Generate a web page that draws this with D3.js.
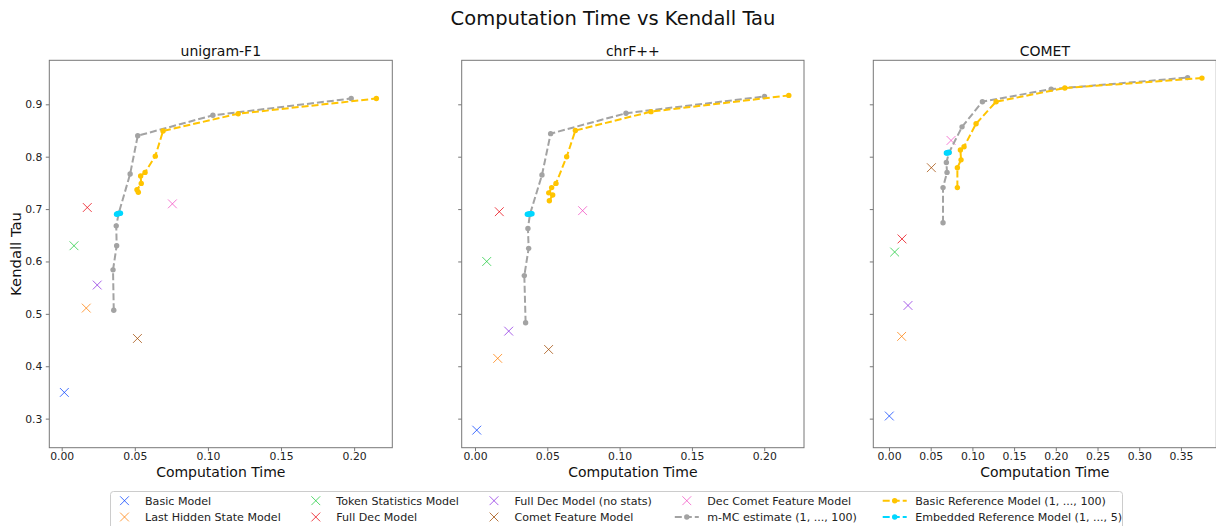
<!DOCTYPE html>
<html><head><meta charset="utf-8">
<script src="https://cdn.jsdelivr.net/npm/d3@7"></script>
<style>body{margin:0;background:#fff;} svg{display:block;font-family:"DejaVu Sans",sans-serif;}</style>
</head><body><svg id="c" width="1216" height="526"></svg>
<script>
// ---------- DATA ----------
const panelTitles = ["unigram-F1", "chrF++", "COMET"];
const crossModels = ["Basic Model", "Last Hidden State Model", "Token Statistics Model", "Full Dec Model",
  "Full Dec Model (no stats)", "Comet Feature Model", "Dec Comet Feature Model"];
const lineSeries = ["m-MC estimate (1, ..., 100)", "Basic Reference Model (1, ..., 100)", "Embedded Reference Model (1, ..., 5)"];

// single-model crosses (time, tau), order as crossModels
const crossTimeUnigram = [0.0018, 0.0168, 0.0084, 0.0175, 0.0243, 0.0518, 0.0757];
const crossTauUnigram  = [0.350, 0.511, 0.630, 0.703, 0.555, 0.453, 0.710];
const crossTimeChrf = [0.0012, 0.0157, 0.0081, 0.0168, 0.0233, 0.0509, 0.0744];
const crossTauChrf  = [0.278, 0.415, 0.600, 0.695, 0.467, 0.432, 0.697];
const crossTimeComet = [0.0004, 0.0152, 0.0068, 0.0156, 0.0228, 0.0508, 0.0744];
const crossTauComet  = [0.305, 0.457, 0.618, 0.643, 0.516, 0.779, 0.831];

// m-MC estimate
const mmcTimeUnigram = [0.0356, 0.0351, 0.0376, 0.0373, 0.0390, 0.0468, 0.0520, 0.1034, 0.1980];
const mmcTauUnigram  = [0.507, 0.584, 0.630, 0.668, 0.692, 0.767, 0.840, 0.879, 0.911];
const mmcTimeChrf = [0.0350, 0.0341, 0.0371, 0.0366, 0.0380, 0.0463, 0.0523, 0.1044, 0.2002];
const mmcTauChrf  = [0.483, 0.573, 0.625, 0.663, 0.690, 0.765, 0.844, 0.883, 0.915];
const mmcTimeComet = [0.0648, 0.0648, 0.0696, 0.0688, 0.0720, 0.0876, 0.1120, 0.1944, 0.3580];
const mmcTauComet  = [0.674, 0.741, 0.770, 0.789, 0.808, 0.857, 0.905, 0.929, 0.951];

// Basic Reference Model
const basicRefTimeUnigram = [0.0524, 0.0515, 0.0544, 0.0540, 0.0570, 0.0640, 0.0693, 0.1207, 0.2152];
const basicRefTauUnigram  = [0.732, 0.737, 0.749, 0.763, 0.770, 0.801, 0.849, 0.882, 0.911];
const basicRefTimeChrf = [0.0514, 0.0537, 0.0510, 0.0530, 0.0560, 0.0634, 0.0694, 0.1217, 0.2170];
const basicRefTauChrf  = [0.716, 0.727, 0.731, 0.741, 0.749, 0.800, 0.850, 0.886, 0.917];
const basicRefTimeComet = [0.0820, 0.0820, 0.0864, 0.0856, 0.0900, 0.1044, 0.1284, 0.2108, 0.3752];
const basicRefTauComet  = [0.741, 0.779, 0.794, 0.813, 0.819, 0.863, 0.905, 0.931, 0.950];

// Embedded Reference Model
const embRefTimeUnigram = [0.0375, 0.0382, 0.0388, 0.0395, 0.0402];
const embRefTauUnigram  = [0.690, 0.691, 0.691, 0.692, 0.692];
const embRefTimeChrf = [0.0362, 0.0370, 0.0378, 0.0386, 0.0394];
const embRefTauChrf  = [0.690, 0.690, 0.691, 0.691, 0.691];
const embRefTimeComet = [0.0688, 0.0697, 0.0705, 0.0713, 0.0720];
const embRefTauComet  = [0.807, 0.807, 0.808, 0.808, 0.808];

const xTicksShort = [0, 0.05, 0.10, 0.15, 0.20];
const xTicksLong = [0, 0.05, 0.10, 0.15, 0.20, 0.25, 0.30, 0.35];
const yTicks = [0.3, 0.4, 0.5, 0.6, 0.7, 0.8, 0.9];

// ---------- STYLE / LAYOUT ----------
const crossColors = ["#023eff", "#ff7c00", "#1ac938", "#e8000b", "#8b2be2", "#9f4800", "#f14cc1"];
const lineColors = ["#a3a3a3", "#ffc400", "#00d7ff"];
const panels = [
  {title: panelTitles[0], x0: 49.3, x1: 392.3, dom: [-0.00848, 0.2261], ticks: xTicksShort,
   cx: crossTimeUnigram, cy: crossTauUnigram,
   lines: [[mmcTimeUnigram, mmcTauUnigram], [basicRefTimeUnigram, basicRefTauUnigram], [embRefTimeUnigram, embRefTauUnigram]]},
  {title: panelTitles[1], x0: 461.7, x1: 804, dom: [-0.0092, 0.2275], ticks: xTicksShort,
   cx: crossTimeChrf, cy: crossTauChrf,
   lines: [[mmcTimeChrf, mmcTauChrf], [basicRefTimeChrf, basicRefTauChrf], [embRefTimeChrf, embRefTauChrf]]},
  {title: panelTitles[2], x0: 873.3, x1: 1216.3, dom: [-0.0188, 0.3924], ticks: xTicksLong,
   cx: crossTimeComet, cy: crossTauComet,
   lines: [[mmcTimeComet, mmcTauComet], [basicRefTimeComet, basicRefTauComet], [embRefTimeComet, embRefTauComet]]}
];
const plotTop = 60.3, plotBottom = 447.7;
const yScale = d3.scaleLinear().domain([0.2445, 0.984]).range([plotBottom, plotTop]);
const svg = d3.select("#c");
const fmt2 = d3.format(".2f"), fmt1 = d3.format(".1f");

svg.append("text").attr("x", 613).attr("y", 25).attr("text-anchor", "middle")
  .attr("font-size", 19.5).attr("fill", "#111").text("Computation Time vs Kendall Tau");

function crossPath(s){ return `M${-s},${-s}L${s},${s}M${-s},${s}L${s},${-s}`; }

panels.forEach((p, pi) => {
  const x = d3.scaleLinear().domain(p.dom).range([p.x0, p.x1]);
  const g = svg.append("g");
  const clipId = "clip" + pi;
  svg.append("clipPath").attr("id", clipId).append("rect")
    .attr("x", p.x0).attr("y", plotTop).attr("width", p.x1 - p.x0).attr("height", plotBottom - plotTop);

  const xa = g.append("g").attr("transform", `translate(0,${plotBottom})`)
    .call(d3.axisBottom(x).tickValues(p.ticks).tickFormat(fmt2).tickSize(3.5).tickPadding(1.5));
  const ya = g.append("g").attr("transform", `translate(${p.x0},0)`)
    .call(d3.axisLeft(yScale).tickValues(yTicks).tickFormat(pi === 0 ? fmt1 : () => "").tickSize(3.5).tickPadding(3.5));
  [xa, ya].forEach(a => {
    a.select(".domain").remove();
    a.selectAll("line").attr("stroke", "#555").attr("stroke-width", 0.8);
    a.selectAll("text").attr("font-size", 10.8).attr("fill", "#222").attr("font-family", "DejaVu Sans, sans-serif");
  });

  const plot = g.append("g").attr("clip-path", `url(#${clipId})`);
  p.cx.forEach((t, i) => {
    plot.append("path").attr("d", crossPath(4.4))
      .attr("transform", `translate(${x(t)},${yScale(p.cy[i])})`)
      .attr("stroke", crossColors[i]).attr("stroke-width", 1).attr("fill", "none").attr("opacity", 0.75);
  });
  p.lines.forEach((ln, li) => {
    const pts = ln[0].map((t, i) => [x(t), yScale(ln[1][i])]);
    plot.append("path").attr("d", d3.line()(pts)).attr("fill", "none")
      .attr("stroke", lineColors[li]).attr("stroke-width", 2).attr("stroke-dasharray", "7,3");
    plot.selectAll(null).data(pts).enter().append("circle")
      .attr("cx", d => d[0]).attr("cy", d => d[1]).attr("r", 2.7).attr("fill", lineColors[li]);
  });

  g.append("rect").attr("x", p.x0).attr("y", plotTop).attr("width", p.x1 - p.x0).attr("height", plotBottom - plotTop)
    .attr("fill", "none").attr("stroke", "#777").attr("stroke-width", 1);

  const cxm = (p.x0 + p.x1) / 2;
  g.append("text").attr("x", cxm).attr("y", 56).attr("text-anchor", "middle")
    .attr("font-size", 14).attr("fill", "#111").text(p.title);
  g.append("text").attr("x", cxm).attr("y", 477).attr("text-anchor", "middle")
    .attr("font-size", 14).attr("fill", "#111").text("Computation Time");
});

svg.append("text").attr("transform", `translate(20.5,${(plotTop + plotBottom) / 2}) rotate(-90)`)
  .attr("text-anchor", "middle").attr("font-size", 14.8).attr("fill", "#111").text("Kendall Tau");

// ---------- LEGEND ----------
const lg = svg.append("g");
lg.append("rect").attr("x", 110.5).attr("y", 491.5).attr("width", 1012).attr("height", 45).attr("rx", 3)
  .attr("fill", "#fff").attr("stroke", "#ccc").attr("stroke-width", 1);
const legendItems = crossModels.map((n, i) => ({name: n, type: "cross", color: crossColors[i]}))
  .concat(lineSeries.map((n, i) => ({name: n, type: "line", color: lineColors[i]})));
const textX = [145, 336.3, 514.5, 707.3, 915.2];
const rowY = [500.7, 517];
legendItems.forEach((it, k) => {
  const col = Math.floor(k / 2), row = k % 2;
  const tx = textX[col], cy = rowY[row], hc = tx - 20.5;
  if (it.type === "cross") {
    lg.append("path").attr("d", crossPath(4.4)).attr("transform", `translate(${hc},${cy})`)
      .attr("stroke", it.color).attr("stroke-width", 1).attr("fill", "none").attr("opacity", 0.75);
  } else {
    lg.append("line").attr("x1", hc - 12).attr("x2", hc + 12).attr("y1", cy).attr("y2", cy)
      .attr("stroke", it.color).attr("stroke-width", 2).attr("stroke-dasharray", "7,3");
    lg.append("circle").attr("cx", hc).attr("cy", cy).attr("r", 2.7).attr("fill", it.color);
  }
  lg.append("text").attr("x", tx).attr("y", cy).attr("dy", "0.35em").attr("font-size", 11.1)
    .attr("fill", "#222").text(it.name);
});
</script></body></html>
